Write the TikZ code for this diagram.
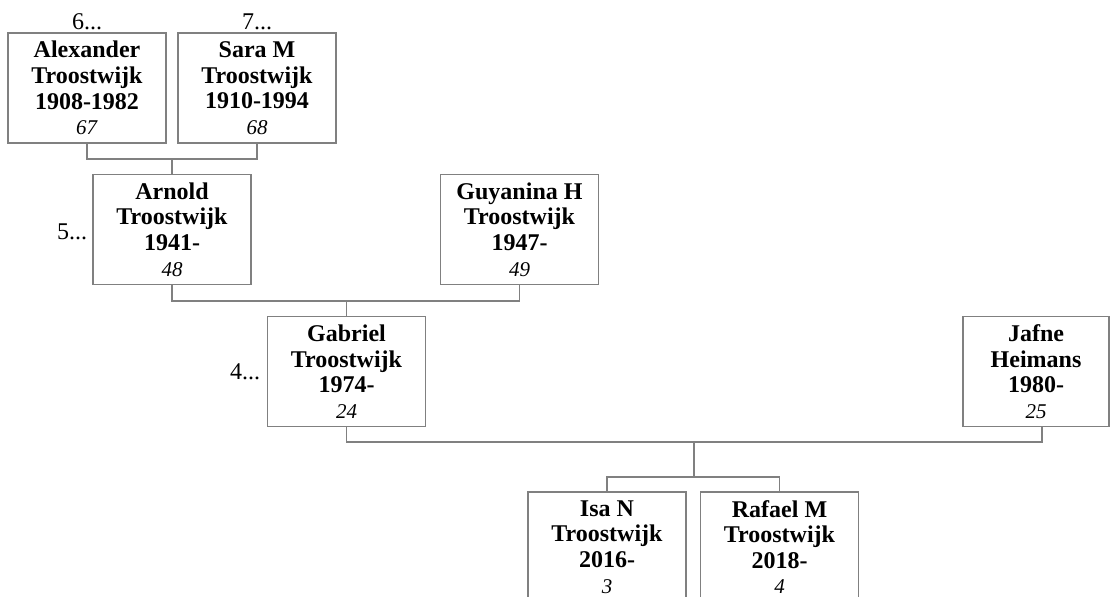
\documentclass[tikz,border=0pt]{standalone}
\usepackage{fontspec}
\setmainfont{Liberation Serif}
\usetikzlibrary{positioning}

\begin{document}
\begin{tikzpicture}[x=0.5pt,y=-0.5pt,
  person/.style={draw=gray,line width=0.6pt,fill=white,align=center,inner sep=0pt,
    minimum width=79pt,minimum height=55pt,font=\fontsize{12}{12.8}\selectfont},
  link/.style={draw=gray,line width=0.6pt},
  gen/.style={inner sep=0pt,font=\fontsize{12}{12.8}\selectfont}]
 \useasboundingbox (0,0) rectangle (1110,597);
 % boxes
 \node[person] (alex) at (87,88) {\textbf{Alexander}\\\textbf{Troostwijk}\\\textbf{1908-1982}\\\textit{\fontsize{10.5}{12.8}\selectfont 67}};
 \node[person] (sara) at (257,88) {\textbf{Sara M}\\\textbf{Troostwijk}\\\textbf{1910-1994}\\\textit{\fontsize{10.5}{12.8}\selectfont 68}};
 \node[person] (arnold) at (172,229.5) {\textbf{Arnold}\\\textbf{Troostwijk}\\\textbf{1941-}\\\textit{\fontsize{10.5}{12.8}\selectfont 48}};
 \node[person] (guya) at (519.5,229.5) {\textbf{Guyanina H}\\\textbf{Troostwijk}\\\textbf{1947-}\\\textit{\fontsize{10.5}{12.8}\selectfont 49}};
 \node[person] (gabriel) at (346.5,371.5) {\textbf{Gabriel}\\\textbf{Troostwijk}\\\textbf{1974-}\\\textit{\fontsize{10.5}{12.8}\selectfont 24}};
 \node[person,minimum width=73pt] (jafne) at (1036,371.5) {\textbf{Jafne}\\\textbf{Heimans}\\\textbf{1980-}\\\textit{\fontsize{10.5}{12.8}\selectfont 25}};
 \node[person] (isa) at (607,547) {\textbf{Isa N}\\\textbf{Troostwijk}\\\textbf{2016-}\\\textit{\fontsize{10.5}{12.8}\selectfont 3}};
 \node[person] (rafael) at (779.5,547) {\textbf{Rafael M}\\\textbf{Troostwijk}\\\textbf{2018-}\\\textit{\fontsize{10.5}{12.8}\selectfont 4}};
 % generation marks
 \node[gen] (g6) at (87,22) {6...};
 \node[gen] (g7) at (257,22) {7...};
 \node[gen] (g5) at (72,232) {5...};
 \node[gen] (g4) at (245,372) {4...};
 % links
 \coordinate (c1) at (172,159);
 \coordinate (c2) at (346.5,301);
 \coordinate (c3) at (694,442);
 \coordinate (c4) at (694,477);
 \draw[link] (alex.south) |- (c1) -| (sara.south);
 \draw[link] (c1) -- (arnold.north);
 \draw[link] (arnold.south) |- (c2) -| (guya.south);
 \draw[link] (c2) -- (gabriel.north);
 \draw[link] (gabriel.south) |- (c3) -| ([xshift=3pt]jafne.south);
 \draw[link] (c3) -- (c4);
 \draw[link] (isa.north) |- (c4) -| (rafael.north);
\end{tikzpicture}
\end{document}
